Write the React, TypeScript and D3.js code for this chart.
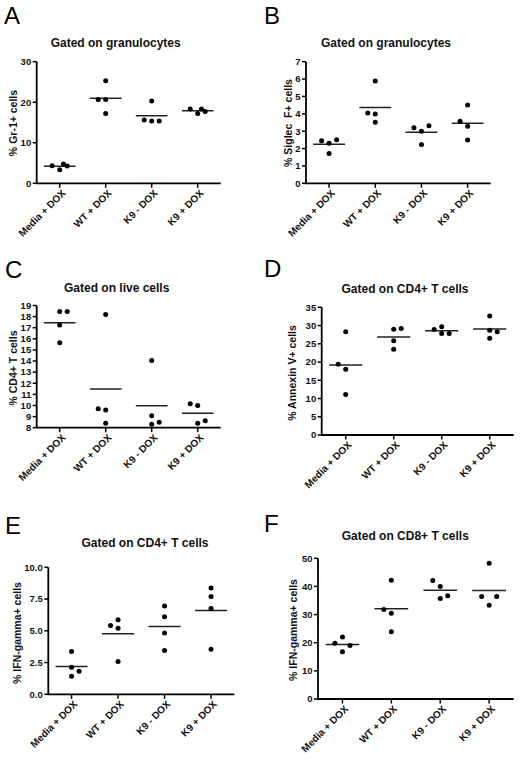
import React from "react";
import * as d3 from "d3";

// ---------- data ----------
const categories = ["Media + DOX", "WT + DOX", "K9 - DOX", "K9 + DOX"];

const gr1Values = [
  [4.36, 3.37, 4.77, 4.27],
  [25.3, 20.7, 20.7, 17.2],
  [20.3, 15.6, 15.4, 15.4],
  [18.3, 17.2, 18.3, 17.7],
];
const siglecValues = [
  [2.45, 2.3, 2.51, 1.71],
  [5.89, 4.05, 3.99, 3.51],
  [3.2, 2.99, 3.32, 2.24],
  [3.57, 4.51, 3.28, 2.49],
];
const cd4Values = [
  [18.45, 18.45, 17.25, 15.65],
  [18.2, 9.7, 9.6, 8.4],
  [14.05, 9.07, 8.3, 8.5],
  [10.15, 10.0, 8.4, 8.62],
];
const annexinValues = [
  [28.3, 19.4, 18.0, 11.1],
  [29.0, 29.2, 25.8, 23.5],
  [28.9, 29.7, 27.8, 27.8],
  [32.6, 28.7, 28.3, 26.5],
];
const ifnCd4Values = [
  [3.37, 2.13, 1.82, 1.42],
  [5.42, 5.87, 5.21, 2.58],
  [6.95, 6.11, 4.82, 3.45],
  [8.37, 7.71, 6.76, 3.55],
];
const ifnCd8Values = [
  [19.8, 22.0, 19.0, 16.8],
  [42.2, 31.8, 30.5, 23.9],
  [42.1, 40.0, 35.7, 36.7],
  [48.2, 36.4, 36.4, 33.3],
];

// side-by-side order of overlapping dots (scatter dot plot slots)
const gr1Slots = [[-2, 0, 1, 2], [0, -2, 0, 0], [0, -2, 0, 2], [-2, 0, 1, 2]];
const siglecSlots = [[-2, 0, 2, 0], [0, -2, 0, 0], [-2, 0, 2, 0], [-2, 0, 0, 0]];
const cd4Slots = [[0, 2, 0, 0], [0, -2, 0, 0], [0, 0, 0, 2], [-2, 0, 0, 2]];
const annexinSlots = [[0, -2, 0, 0], [0, 2, 0, 0], [-2, 0, 0, 2], [0, 0, 2, 0]];
const ifnCd4Slots = [[0, 0, 2, 0], [-2, 0, 0, 0], [0, 0, 0, 0], [0, 0, 0, 0]];
const ifnCd8Slots = [[-2, 0, 2, 0], [0, -2, 0, 0], [-2, 0, 0, 2], [0, -2, 2, 0]];

const gr1Ticks = [0, 10, 20, 30];
const siglecTicks = [0, 1, 2, 3, 4, 5, 6, 7];
const cd4Ticks = [8, 9, 10, 11, 12, 13, 14, 15, 16, 17, 18, 19];
const annexinTicks = [0, 5, 10, 15, 20, 25, 30, 35];
const ifnCd4Ticks = [0, 2.5, 5, 7.5, 10];
const ifnCd8Ticks = [0, 10, 20, 30, 40, 50];

const FONT = "'Liberation Sans', Arial, Helvetica, sans-serif";

type Layout = {
  x0: number; x1: number; yTop: number; yBot: number;
  letterX: number; letterY: number;
  titleX: number; titleY: number;
  yLabelX: number; yLabelY: number;
};

type PanelProps = {
  letter: string;
  title: string;
  yLabel: string;
  values: number[][];
  slots: number[][];
  ticks: number[];
  fmt: (v: number) => string;
  layout: Layout;
};

function Panel({ letter, title, yLabel, values, slots, ticks, fmt, layout }: PanelProps) {
  const { x0, x1, yTop, yBot } = layout;
  const x = d3.scaleBand<string>().domain(categories).range([x0, x1]).padding(0);
  const y = d3
    .scaleLinear()
    .domain([ticks[0], ticks[ticks.length - 1]])
    .range([yBot, yTop]);
  const step = x.step();
  const half = x.bandwidth() / 2;
  const meanHalf = step * 0.345;
  const jit = 3.75;
  return (
    <g fontFamily={FONT}>
      <text x={layout.letterX} y={layout.letterY} fontSize={24} fill="#000">
        {letter}
      </text>
      <text
        x={layout.titleX}
        y={layout.titleY}
        fontSize={12}
        fontWeight="bold"
        textAnchor="middle"
        fill="#111"
      >
        {title}
      </text>
      <text
        transform={`translate(${layout.yLabelX},${layout.yLabelY}) rotate(-90)`}
        fontSize={10.5}
        fontWeight="bold"
        textAnchor="middle"
        fill="#111"
        style={{ whiteSpace: "pre" }}
      >
        {yLabel}
      </text>
      {/* y axis */}
      <line x1={x0} x2={x0} y1={yTop} y2={yBot} stroke="#000" strokeWidth={1.8} />
      {ticks.map((t) => (
        <g key={t}>
          <line x1={x0 - 4} x2={x0} y1={y(t)} y2={y(t)} stroke="#000" strokeWidth={1.5} />
          <text
            x={x0 - 5.5}
            y={y(t)}
            dy="0.35em"
            fontSize={9.5}
            fontWeight="bold"
            textAnchor="end"
            fill="#111"
          >
            {fmt(t)}
          </text>
        </g>
      ))}
      {/* x axis */}
      <line x1={x0 - 0.9} x2={x1} y1={yBot} y2={yBot} stroke="#000" strokeWidth={1.8} />
      {categories.map((c) => {
        const cx = (x(c) as number) + half;
        return (
          <g key={c}>
            <line x1={cx} x2={cx} y1={yBot} y2={yBot + 4.5} stroke="#000" strokeWidth={1.5} />
            <text
              transform={`translate(${cx + 4},${yBot + 8}) rotate(-45)`}
              fontSize={10}
              fontWeight="bold"
              textAnchor="end"
              dy="0.35em"
              fill="#111"
            >
              {c}
            </text>
          </g>
        );
      })}
      {/* dots and mean lines */}
      {categories.map((c, i) => {
        const cx = (x(c) as number) + half;
        const m = d3.mean(values[i]) as number;
        return (
          <g key={c + "d"}>
            <line
              x1={cx - meanHalf}
              x2={cx + meanHalf}
              y1={y(m)}
              y2={y(m)}
              stroke="#222"
              strokeWidth={1.5}
            />
            {values[i].map((v, j) => (
              <circle key={j} cx={cx + slots[i][j] * jit} cy={y(v)} r={2.5} fill="#000" />
            ))}
          </g>
        );
      })}
    </g>
  );
}

const intFmt = d3.format("d");
const oneFmt = d3.format(".1f");

export default function App() {
  return (
    <svg
      width={520}
      height={765}
      style={{ position: "absolute", left: 0, top: 0, background: "#fff" }}
    >
      <rect width={520} height={765} fill="#fff" />
      <Panel
        letter="A"
        title="Gated on granulocytes"
        yLabel="% Gr-1+ cells"
        values={gr1Values}
        slots={gr1Slots}
        ticks={gr1Ticks}
        fmt={intFmt}
        layout={{ x0: 36.7, x1: 220.7, yTop: 61.7, yBot: 183.3, letterX: 4, letterY: 23.5, titleX: 115.7, titleY: 47, yLabelX: 17, yLabelY: 123 }}
      />
      <Panel
        letter="B"
        title="Gated on granulocytes"
        yLabel="% Siglec  F+ cells"
        values={siglecValues}
        slots={siglecSlots}
        ticks={siglecTicks}
        fmt={intFmt}
        layout={{ x0: 306, x1: 490.7, yTop: 61.7, yBot: 183.3, letterX: 264, letterY: 23.5, titleX: 386, titleY: 47, yLabelX: 292, yLabelY: 123 }}
      />
      <Panel
        letter="C"
        title="Gated on live cells"
        yLabel="% CD4+ T cells"
        values={cd4Values}
        slots={cd4Slots}
        ticks={cd4Ticks}
        fmt={intFmt}
        layout={{ x0: 36.7, x1: 220.7, yTop: 305.5, yBot: 427.7, letterX: 5, letterY: 277.5, titleX: 116.7, titleY: 291.5, yLabelX: 17, yLabelY: 368 }}
      />
      <Panel
        letter="D"
        title="Gated on CD4+ T cells"
        yLabel="% Annexin V+ cells"
        values={annexinValues}
        slots={annexinSlots}
        ticks={annexinTicks}
        fmt={intFmt}
        layout={{ x0: 321.7, x1: 513.7, yTop: 307.3, yBot: 435, letterX: 264, letterY: 277, titleX: 405, titleY: 293, yLabelX: 295.5, yLabelY: 373 }}
      />
      <Panel
        letter="E"
        title="Gated on CD4+ T cells"
        yLabel="% IFN-gamma+ cells"
        values={ifnCd4Values}
        slots={ifnCd4Slots}
        ticks={ifnCd4Ticks}
        fmt={oneFmt}
        layout={{ x0: 48.3, x1: 234.3, yTop: 567.3, yBot: 694.3, letterX: 5, letterY: 533.5, titleX: 145, titleY: 546.5, yLabelX: 20.5, yLabelY: 633 }}
      />
      <Panel
        letter="F"
        title="Gated on CD8+ T cells"
        yLabel="% IFN-gamma+ cells"
        values={ifnCd8Values}
        slots={ifnCd8Slots}
        ticks={ifnCd8Ticks}
        fmt={intFmt}
        layout={{ x0: 318, x1: 513.6, yTop: 558.3, yBot: 699, letterX: 264, letterY: 532, titleX: 405.3, titleY: 539.5, yLabelX: 297, yLabelY: 630 }}
      />
    </svg>
  );
}
